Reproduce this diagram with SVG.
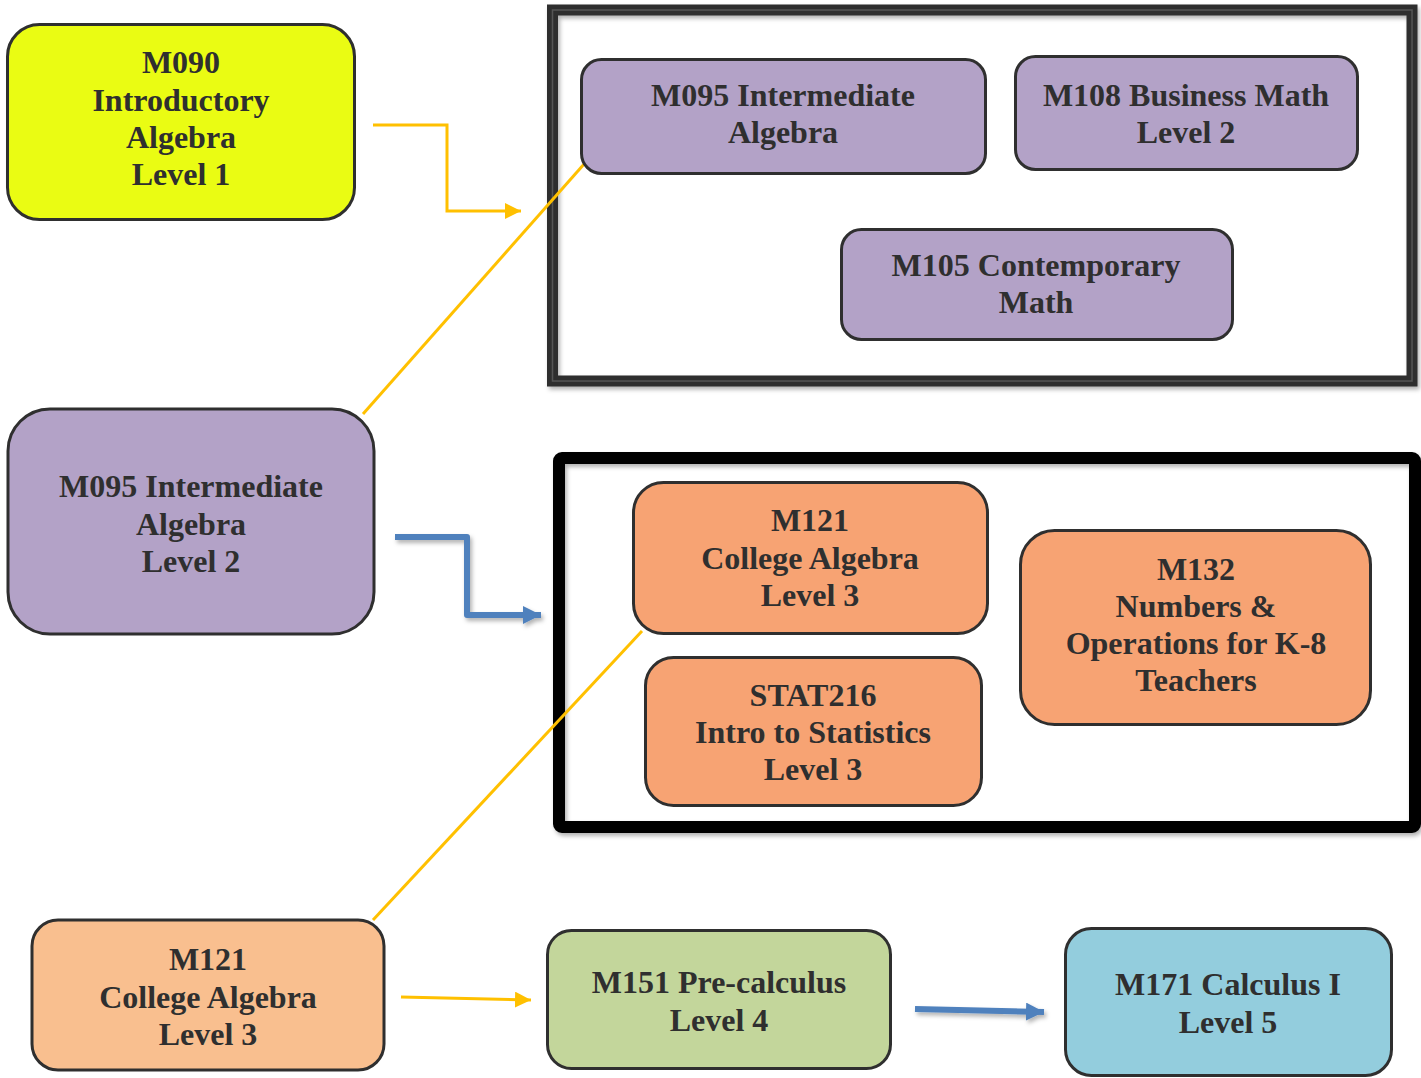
<svg xmlns="http://www.w3.org/2000/svg" width="1421" height="1078" viewBox="0 0 1421 1078">
<defs>
<style>
.node{stroke:#2f2f2f;stroke-width:3}
.t{font-family:"Liberation Serif","Times New Roman",serif;font-weight:bold;font-size:32px;fill:#2f2f2f;text-anchor:middle}
.purple{fill:#b3a2c7}
.orange{fill:#f7a373}
.yl{fill:none;stroke:#ffc000;stroke-width:3}
.bl{fill:none;stroke:#4f81bd;stroke-width:6}
</style>
<marker id="ya" markerUnits="userSpaceOnUse" markerWidth="16" markerHeight="16" refX="16" refY="8" orient="auto"><path d="M0,0 L16,8 L0,16 Z" fill="#ffc000"/></marker>
<marker id="ba" markerUnits="userSpaceOnUse" markerWidth="18" markerHeight="18" refX="18" refY="9" orient="auto"><path d="M0,0 L18,9 L0,18 Z" fill="#4f81bd"/></marker>
<filter id="sh" x="-5%" y="-5%" width="110%" height="115%"><feDropShadow dx="2" dy="3" stdDeviation="2" flood-color="#000" flood-opacity="0.3"/></filter>
</defs>
<rect width="1421" height="1078" fill="#fff"/>

<g id="frame-level2" filter="url(#sh)">
<rect x="552.5" y="10" width="859.5" height="371" fill="none" stroke="#2e2e2e" stroke-width="11"/>
<rect x="552.5" y="10" width="859.5" height="371" fill="none" stroke="#555" stroke-width="1.5"/>
</g>
<g id="frame-level3" filter="url(#sh)">
<rect x="559" y="458" width="856" height="369" rx="3" fill="none" stroke="#000" stroke-width="12"/>
</g>

<g id="connectors">
<polyline class="yl" points="373,125 447,125 447,211 521,211" marker-end="url(#ya)"/>
<line class="yl" x1="363" y1="414" x2="585" y2="163"/>
<line class="yl" x1="373" y1="920" x2="642" y2="631"/>
<line class="yl" x1="401" y1="997" x2="531" y2="1000" stroke-width="4" marker-end="url(#ya)"/>
<g filter="url(#sh)">
<polyline class="bl" points="395,537 467,537 467,615 541,615" stroke-linejoin="round" marker-end="url(#ba)"/>
<line class="bl" x1="915" y1="1009" x2="1044" y2="1012" marker-end="url(#ba)"/>
</g>
</g>

<g id="m090">
<rect class="node" x="7.5" y="24.5" width="347" height="195" rx="32" fill="#eafc13"/>
<text class="t" x="181" y="73">M090</text>
<text class="t" x="181" y="110.5">Introductory</text>
<text class="t" x="181" y="148">Algebra</text>
<text class="t" x="181" y="185">Level 1</text>
</g>

<g id="m095-left">
<rect class="node purple" x="8" y="409" width="366" height="225" rx="42" stroke-width="5"/>
<text class="t" x="191" y="497">M095 Intermediate</text>
<text class="t" x="191" y="534.5">Algebra</text>
<text class="t" x="191" y="572">Level 2</text>
</g>

<g id="m121-left">
<rect class="node" x="32" y="920" width="352" height="150" rx="26" fill="#f9bf8f" stroke-width="4.5"/>
<text class="t" x="208" y="970">M121</text>
<text class="t" x="208" y="1007.5">College Algebra</text>
<text class="t" x="208" y="1045">Level 3</text>
</g>

<g id="m095-top">
<rect class="node purple" x="581.5" y="59.5" width="404" height="114" rx="20"/>
<text class="t" x="783" y="106">M095 Intermediate</text>
<text class="t" x="783" y="143">Algebra</text>
</g>

<g id="m108">
<rect class="node purple" x="1015.5" y="56.5" width="342" height="113" rx="20"/>
<text class="t" x="1186" y="106">M108 Business Math</text>
<text class="t" x="1186" y="143">Level 2</text>
</g>

<g id="m105">
<rect class="node purple" x="841.5" y="229.5" width="391" height="110" rx="20"/>
<text class="t" x="1036" y="276">M105 Contemporary</text>
<text class="t" x="1036" y="313">Math</text>
</g>

<g id="m121-inner">
<rect class="node orange" x="633.5" y="482.5" width="354" height="151" rx="30"/>
<text class="t" x="810" y="531">M121</text>
<text class="t" x="810" y="569">College Algebra</text>
<text class="t" x="810" y="606">Level 3</text>
</g>

<g id="stat216">
<rect class="node orange" x="645.5" y="657.5" width="336" height="148" rx="28"/>
<text class="t" x="813" y="706">STAT216</text>
<text class="t" x="813" y="743">Intro to Statistics</text>
<text class="t" x="813" y="780">Level 3</text>
</g>

<g id="m132">
<rect class="node orange" x="1020.5" y="530.5" width="350" height="194" rx="34"/>
<text class="t" x="1196" y="580">M132</text>
<text class="t" x="1196" y="617">Numbers &amp;</text>
<text class="t" x="1196" y="654">Operations for K-8</text>
<text class="t" x="1196" y="691">Teachers</text>
</g>

<g id="m151">
<rect class="node" x="547.5" y="930.5" width="343" height="138" rx="24" fill="#c3d69b"/>
<text class="t" x="719" y="993">M151 Pre-calculus</text>
<text class="t" x="719" y="1031">Level 4</text>
</g>

<g id="m171">
<rect class="node" x="1065.5" y="928.5" width="326" height="147" rx="26" fill="#93cddd"/>
<text class="t" x="1228" y="995">M171 Calculus I</text>
<text class="t" x="1228" y="1033">Level 5</text>
</g>
</svg>
